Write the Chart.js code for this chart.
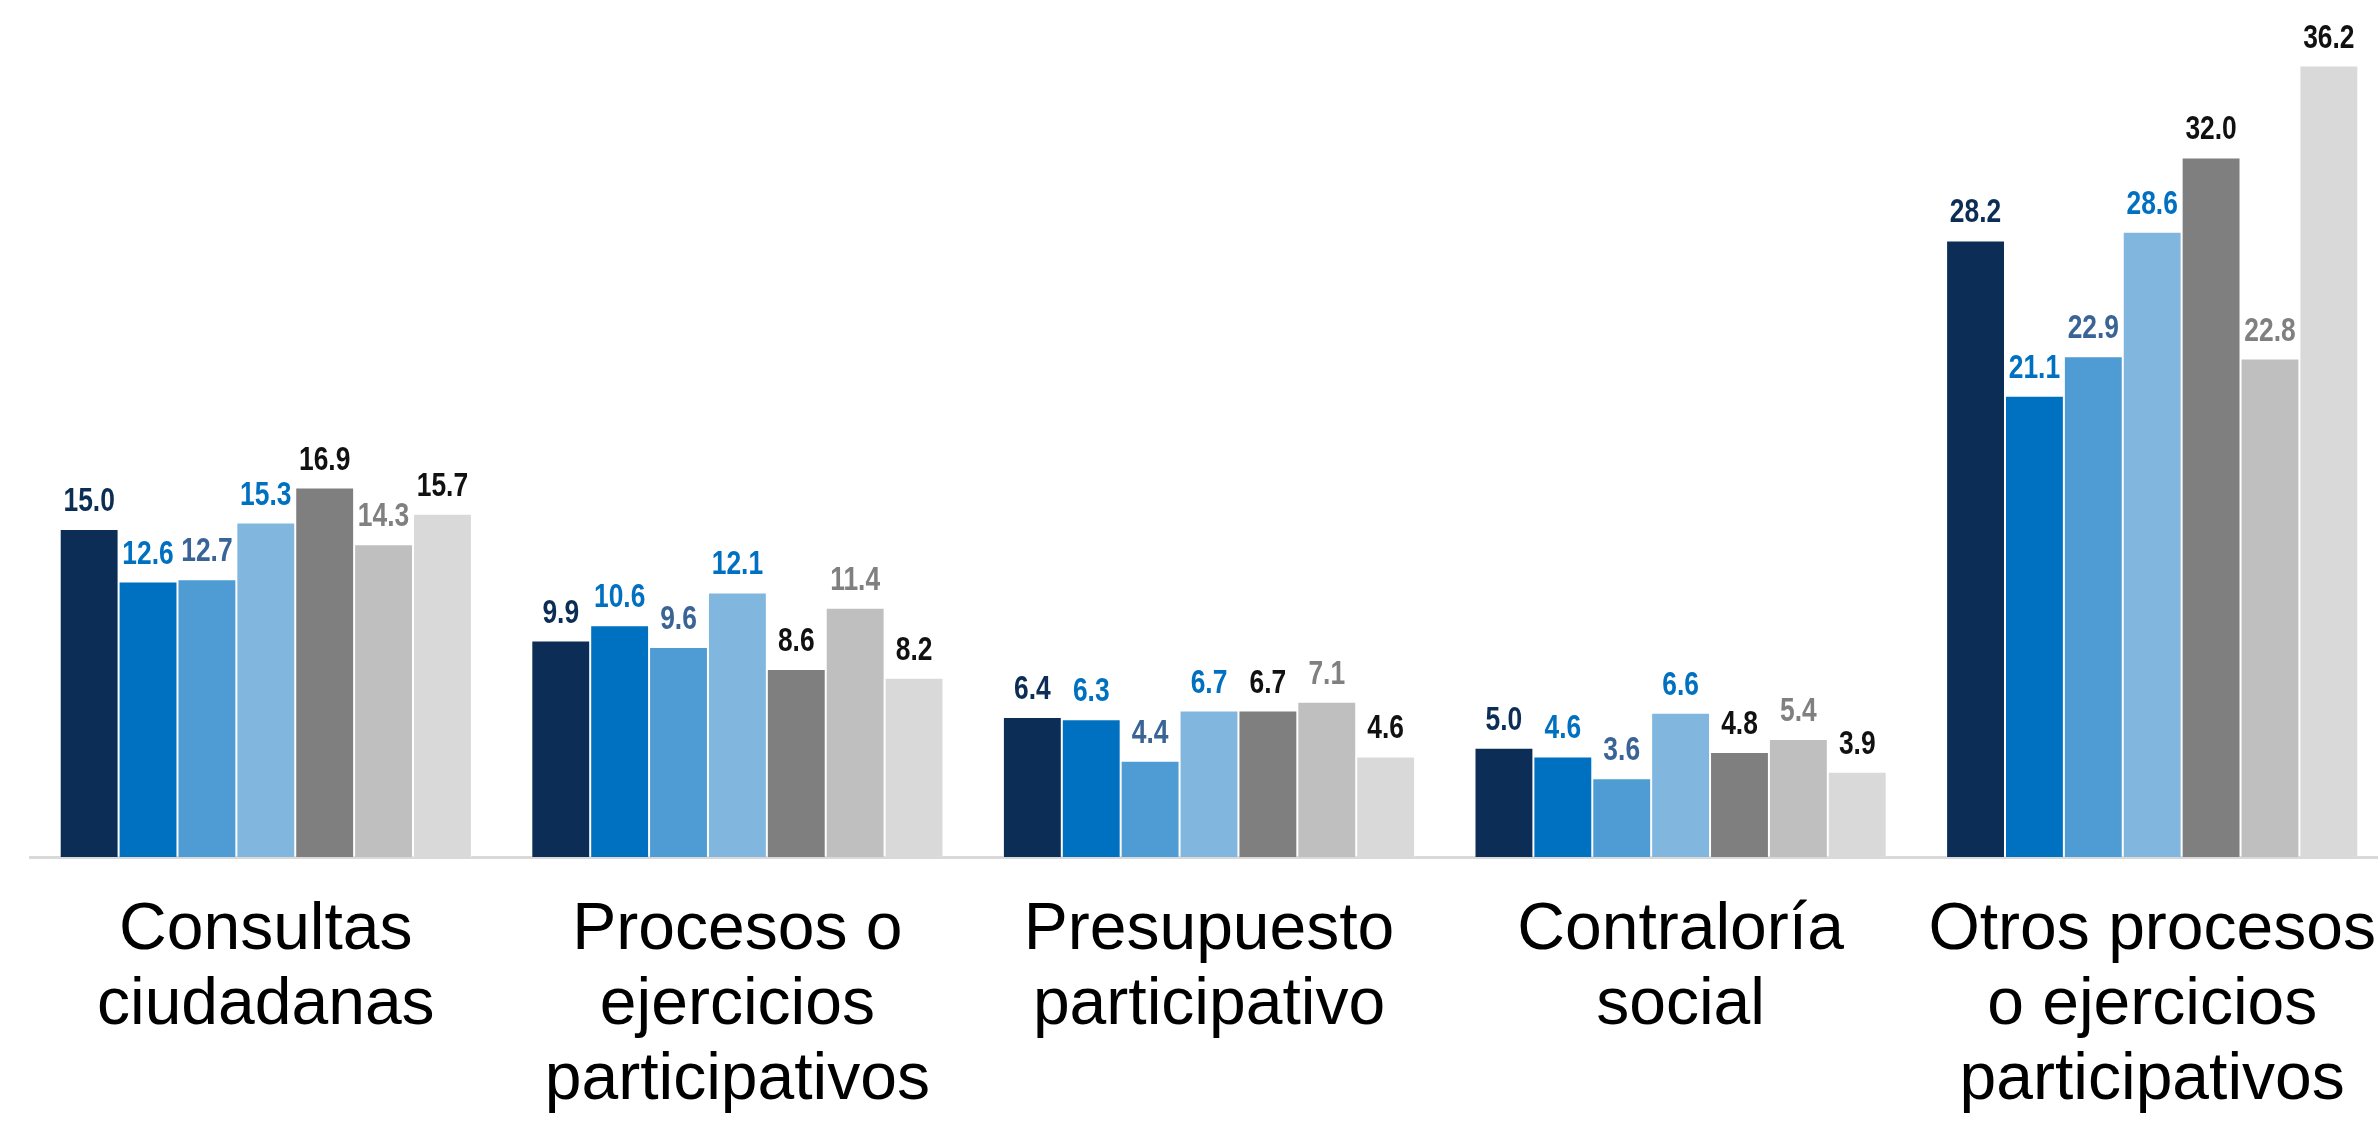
<!DOCTYPE html>
<html lang="es">
<head>
<meta charset="UTF-8">
<title>Mecanismos de participación</title>
<script src="https://cdn.jsdelivr.net/npm/chart.js@4.4.1/dist/chart.umd.min.js"></script>
<style>
    html, body { margin: 0; padding: 0; background: #ffffff; }
    #chartBox { position: relative; width: 2378px; height: 1122px; }
</style>
</head>
<body>
<div id="chartBox">
    <canvas id="mecanismosChart"></canvas>
</div>
<script>
// Categorías (etiquetas en varias líneas)
const categorias = [
    ['Consultas', 'ciudadanas'],
    ['Procesos o', 'ejercicios', 'participativos'],
    ['Presupuesto', 'participativo'],
    ['Contraloría', 'social'],
    ['Otros procesos', 'o ejercicios', 'participativos']
];

// Valores por serie
const serie1 = [15.0, 9.9, 6.4, 5.0, 28.2];
const serie2 = [12.6, 10.6, 6.3, 4.6, 21.1];
const serie3 = [12.7, 9.6, 4.4, 3.6, 22.9];
const serie4 = [15.3, 12.1, 6.7, 6.6, 28.6];
const serie5 = [16.9, 8.6, 6.7, 4.8, 32.0];
const serie6 = [14.3, 11.4, 7.1, 5.4, 22.8];
const serie7 = [15.7, 8.2, 4.6, 3.9, 36.2];

const nombresSeries = ['Serie 1', 'Serie 2', 'Serie 3', 'Serie 4', 'Serie 5', 'Serie 6', 'Serie 7'];
const coloresBarras = ['#0C2D55', '#0070C0', '#4E9CD3', '#81B6DE', '#7F7F7F', '#BFBFBF', '#D9D9D9'];
const coloresEtiquetas = ['#0C2D55', '#0070C0', '#3A6396', '#0070C0', '#111111', '#808080', '#111111'];

const series = [serie1, serie2, serie3, serie4, serie5, serie6, serie7];

// Plugin para dibujar los valores encima de cada barra (texto estrecho)
const etiquetasValores = {
    id: 'etiquetasValores',
    afterDatasetsDraw(chart) {
        const ctx = chart.ctx;
        chart.data.datasets.forEach((ds, i) => {
            const meta = chart.getDatasetMeta(i);
            meta.data.forEach((bar, j) => {
                ctx.save();
                ctx.translate(bar.x, bar.y - 18);
                ctx.scale(0.8, 1);
                ctx.font = 'bold 33px "Liberation Sans", Arial, sans-serif';
                ctx.textAlign = 'center';
                ctx.textBaseline = 'alphabetic';
                ctx.fillStyle = coloresEtiquetas[i];
                ctx.fillText(ds.data[j].toFixed(1), 0, 0);
                ctx.restore();
            });
        });
    }
};

// El área del gráfico original se sale un poco por la derecha
const extenderDerecha = {
    id: 'extenderDerecha',
    afterLayout(chart) {
        const extra = 10;
        const x = chart.scales.x;
        x.right += extra;
        x.width += extra;
        chart.chartArea.right += extra;
        chart.chartArea.width += extra;
        x.configure();
    }
};

const ctx = document.getElementById('mecanismosChart').getContext('2d');
new Chart(ctx, {
    type: 'bar',
    data: {
        labels: categorias,
        datasets: series.map((valores, i) => ({
            label: nombresSeries[i],
            data: valores,
            backgroundColor: coloresBarras[i],
            borderColor: 'rgba(255, 255, 255, 0.45)',
            borderWidth: 1,
            borderSkipped: 'bottom',
            categoryPercentage: 0.874,
            barPercentage: 1.0
        }))
    },
    options: {
        responsive: true,
        maintainAspectRatio: false,
        animation: false,
        layout: {
            padding: { left: 30, right: 0, top: 0, bottom: 0 }
        },
        plugins: {
            legend: { display: false },
            tooltip: { enabled: false }
        },
        scales: {
            x: {
                grid: { display: false, drawTicks: false },
                border: { display: true, color: '#D9D9D9', width: 3 },
                ticks: {
                    color: '#000000',
                    font: { family: '"Liberation Sans", Arial, sans-serif', size: 66, lineHeight: 1.14 },
                    padding: 36,
                    autoSkip: false,
                    maxRotation: 0,
                    minRotation: 0
                },
                afterFit: (scale) => {
                    scale.height = 265;
                    scale.paddingLeft = 0;
                    scale.paddingRight = 0;
                }
            },
            y: {
                display: false,
                min: 0,
                max: 39.2
            }
        }
    },
    plugins: [etiquetasValores, extenderDerecha]
});
</script>
</body>
</html>
